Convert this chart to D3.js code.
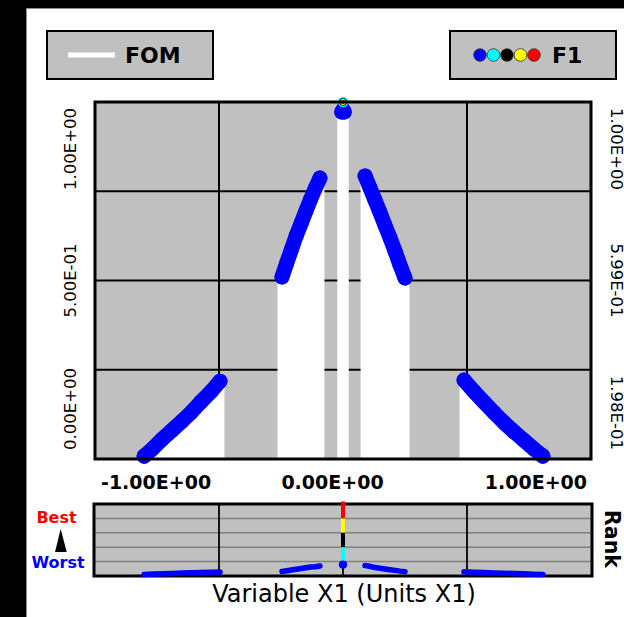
<!DOCTYPE html>
<html>
<head>
<meta charset="utf-8">
<script src="https://cdn.jsdelivr.net/npm/d3@7"></script>
<style>
  body { margin: 0; background: #000; }
  svg { display: block; }
  text { font-family: "DejaVu Sans", Verdana, sans-serif; }
</style>
</head>
<body>
<div id="chart"></div>
<script>

// F1 values along X1 (four branches + the peak at 0)
var leftX   = [-0.802, -0.766, -0.730, -0.690, -0.649, -0.609, -0.573, -0.532, -0.496];
var leftF1  = [0.008, 0.030, 0.055, 0.080, 0.106, 0.133, 0.160, 0.189, 0.218];
var midLeftX  = [-0.246, -0.227, -0.208, -0.189, -0.169, -0.150, -0.131, -0.112, -0.093];
var midLeftF1 = [0.510, 0.549, 0.587, 0.625, 0.660, 0.694, 0.727, 0.758, 0.787];
var midRightX  = [0.089, 0.109, 0.129, 0.149, 0.169, 0.190, 0.210, 0.230, 0.250];
var midRightF1 = [0.793, 0.759, 0.725, 0.691, 0.655, 0.619, 0.582, 0.543, 0.507];
var rightX  = [0.488, 0.528, 0.569, 0.609, 0.649, 0.690, 0.730, 0.770, 0.806];
var rightF1 = [0.221, 0.189, 0.159, 0.130, 0.102, 0.076, 0.052, 0.028, 0.008];
var peakX  = [-0.005, 0.000, 0.005];
var peakF1 = [0.972, 0.978, 0.972];

// the four best points (rank 1..4), all sitting at X1 = 0
var bestX  = [0, 0, 0, 0];
var bestF1 = [1.0, 1.0, 1.0, 1.0];
var bestColors = ["#ff0000", "#ffff00", "#000000", "#00ffff"];

var xTickLabels = ["-1.00E+00", "0.00E+00", "1.00E+00"];
var yLeftLabels = ["0.00E+00", "5.00E-01", "1.00E+00"];
var yRightLabels = ["1.98E-01", "5.99E-01", "1.00E+00"];
var legendColors = ["#0000ff", "#00ffff", "#000000", "#ffff00", "#ff0000"];

function drawChart(){
    var W = 624, H = 617;
    var left = 95, right = 591, top = 102, bottom = 459;
    var rTop = 504, rBottom = 576;
    var blue = "#0000ff", grey = "#c0c0c0";

    var svg = d3.select("#chart").append("svg")
        .attr("width", W)
        .attr("height", H);

    svg.append("rect").attr("width", W).attr("height", H).attr("fill", "#000");
    svg.append("rect")
        .attr("x", 26.5).attr("y", 8.5)
        .attr("width", 700).attr("height", 700)
        .attr("fill", "#fff").attr("stroke", "#8c8c8c");

    var x = d3.scaleLinear().domain([-1, 1]).range([left, right]);
    var y = d3.scaleLinear().domain([0, 1]).range([bottom, top]);

    var segments = [
        {x: leftX, f: leftF1},
        {x: midLeftX, f: midLeftF1},
        {x: midRightX, f: midRightF1},
        {x: rightX, f: rightF1},
        {x: peakX, f: peakF1}
    ].map(function(s){
        return s.x.map(function(v, i){ return {x: v, f: s.f[i]}; });
    });

    // ---- legends
    svg.append("rect").attr("x", 47).attr("y", 31).attr("width", 166).attr("height", 48)
        .attr("fill", grey).attr("stroke", "#000").attr("stroke-width", 2);
    svg.append("line").attr("x1", 68).attr("x2", 115).attr("y1", 55).attr("y2", 55)
        .attr("stroke", "#fff").attr("stroke-width", 5);
    svg.append("text").attr("x", 125).attr("y", 63)
        .attr("font-size", 22).attr("font-weight", "bold").text("FOM");

    svg.append("rect").attr("x", 450).attr("y", 31).attr("width", 166).attr("height", 48)
        .attr("fill", grey).attr("stroke", "#000").attr("stroke-width", 2);
    svg.selectAll(".leg").data(legendColors).enter().append("circle")
        .attr("cx", function(d, i){ return 480 + i * 13.5; })
        .attr("cy", 55).attr("r", 6.3)
        .attr("fill", function(d){ return d; })
        .attr("stroke", "#333").attr("stroke-width", 0.8);
    svg.append("text").attr("x", 552).attr("y", 63)
        .attr("font-size", 22).attr("font-weight", "bold").text("F1");

    // ---- main plot
    svg.append("rect").attr("x", left).attr("y", top)
        .attr("width", right - left).attr("height", bottom - top).attr("fill", grey);

    var g = svg.append("g");
    g.selectAll(".vg").data([-0.5, 0, 0.5]).enter().append("line")
        .attr("x1", x).attr("x2", x).attr("y1", top).attr("y2", bottom)
        .attr("stroke", "#000").attr("stroke-width", 2);
    g.selectAll(".hg").data([0.25, 0.5, 0.75]).enter().append("line")
        .attr("x1", left).attr("x2", right).attr("y1", y).attr("y2", y)
        .attr("stroke", "#000").attr("stroke-width", 2);

    // FOM: white drop lines under every point
    var area = d3.area()
        .x(function(d){ return x(d.x); })
        .y0(bottom)
        .y1(function(d){ return y(d.f); });
    segments.forEach(function(seg){
        g.append("path").attr("d", area(seg)).attr("fill", "#fff");
        g.selectAll(null).data(seg).enter().append("line")
            .attr("x1", function(d){ return x(d.x); })
            .attr("x2", function(d){ return x(d.x); })
            .attr("y1", function(d){ return y(d.f); })
            .attr("y2", bottom)
            .attr("stroke", "#fff").attr("stroke-width", 9);
    });

    // F1 points
    var line = d3.line()
        .x(function(d){ return x(d.x); })
        .y(function(d){ return y(d.f); });
    segments.forEach(function(seg){
        g.append("path").attr("d", line(seg)).attr("fill", "none")
            .attr("stroke", blue).attr("stroke-width", 15)
            .attr("stroke-linecap", "round").attr("stroke-linejoin", "round");
        g.selectAll(null).data(seg).enter().append("circle")
            .attr("cx", function(d){ return x(d.x); })
            .attr("cy", function(d){ return y(d.f); })
            .attr("r", 7.5).attr("fill", blue);
    });
    var bestR = [2, 3, 3.8, 5.2];
    g.selectAll(".best").data([3, 2, 1, 0]).enter().append("circle")
        .attr("cx", function(i){ return x(bestX[i]); })
        .attr("cy", function(i){ return y(bestF1[i]); })
        .attr("r", function(i){ return bestR[i]; })
        .attr("fill", function(i){ return bestColors[i]; });

    svg.append("rect").attr("x", left).attr("y", top)
        .attr("width", right - left).attr("height", bottom - top)
        .attr("fill", "none").attr("stroke", "#000").attr("stroke-width", 3);

    // axis labels
    var xAnchor = ["start", "middle", "end"];
    var xPos = [left + 6, x(0) - 10.5, right - 4];
    svg.selectAll(".xl").data(xTickLabels).enter().append("text")
        .attr("x", function(d, i){ return xPos[i]; })
        .attr("y", 489)
        .attr("text-anchor", function(d, i){ return xAnchor[i]; })
        .attr("font-size", 19).attr("font-weight", "bold")
        .text(function(d){ return d; });

    var yPos = [bottom - 9, y(0.5), top + 6];
    svg.selectAll(".yl").data(yLeftLabels).enter().append("text")
        .attr("transform", function(d, i){ return "translate(75.5," + yPos[i] + ") rotate(-90)"; })
        .attr("text-anchor", function(d, i){ return xAnchor[i]; })
        .attr("font-size", 16.5)
        .text(function(d){ return d; });
    svg.selectAll(".yr").data(yRightLabels).enter().append("text")
        .attr("transform", function(d, i){ return "translate(610.5," + yPos[i] + ") rotate(90)"; })
        .attr("text-anchor", function(d, i){ return xAnchor[2 - i]; })
        .attr("font-size", 16.5)
        .text(function(d){ return d; });

    // ---- rank strip
    var lane = d3.scaleLinear().domain([0, 5]).range([rTop, rBottom]);
    svg.append("rect").attr("x", 94).attr("y", rTop)
        .attr("width", 498).attr("height", rBottom - rTop).attr("fill", grey);
    svg.selectAll(".rl").data([1, 2, 3, 4]).enter().append("line")
        .attr("x1", 94).attr("x2", 592)
        .attr("y1", lane).attr("y2", lane)
        .attr("stroke", "#808080").attr("stroke-width", 1.5);
    svg.selectAll(".rv").data([-0.5, 0, 0.5]).enter().append("line")
        .attr("x1", x).attr("x2", x).attr("y1", rTop).attr("y2", rBottom)
        .attr("stroke", "#000").attr("stroke-width", 1.8);

    svg.append("rect").attr("x", 94).attr("y", rTop)
        .attr("width", 498).attr("height", rBottom - rTop)
        .attr("fill", "none").attr("stroke", "#000").attr("stroke-width", 3);

    // blue points ranked by F1 inside the last lane (drawn over the frame)
    var all = [];
    segments.forEach(function(seg){ seg.forEach(function(d){ all.push(d.f); }); });
    all.sort(d3.ascending);
    var rankY = d3.scaleLinear().domain([0, 0.5, 1]).range([574.5, 571.5, 564.5]);
    function ry(d){ return rankY(all.indexOf(d.f) / (all.length - 1)); }
    var rline = d3.line().x(function(d){ return x(d.x); }).y(ry);
    segments.forEach(function(seg){
        svg.append("path").attr("d", rline(seg)).attr("fill", "none")
            .attr("stroke", blue).attr("stroke-width", 5.5)
            .attr("stroke-linecap", "round").attr("stroke-linejoin", "round");
    });
    svg.append("circle").attr("cx", x(0)).attr("cy", 564.5).attr("r", 4.2).attr("fill", blue);

    svg.selectAll(".rb").data([0, 1, 2, 3]).enter().append("line")
        .attr("x1", function(i){ return x(bestX[i]); })
        .attr("x2", function(i){ return x(bestX[i]); })
        .attr("y1", function(i){ return i == 0 ? rTop - 2.5 : lane(i); })
        .attr("y2", function(i){ return lane(i + 1) - (i == 3 ? 1 : 0); })
        .attr("stroke", function(i){ return bestColors[i]; })
        .attr("stroke-width", 4);

    svg.append("text").attr("x", 56.5).attr("y", 523).attr("text-anchor", "middle")
        .attr("font-size", 16).attr("font-weight", "bold").attr("fill", "#ff0000").text("Best");
    svg.append("path").attr("d", "M60.7,529L66.7,552L55,552Z").attr("fill", "#000");
    svg.append("text").attr("x", 58).attr("y", 568).attr("text-anchor", "middle")
        .attr("font-size", 16).attr("font-weight", "bold").attr("fill", blue).text("Worst");
    svg.append("text").attr("transform", "translate(605,539) rotate(90)")
        .attr("text-anchor", "middle")
        .attr("font-size", 20.5).attr("font-weight", "bold").text("Rank");

    svg.append("text").attr("x", 344).attr("y", 602).attr("text-anchor", "middle")
        .attr("font-size", 24).text("Variable X1 (Units X1)");
}

drawChart()
</script>
</body>
</html>
